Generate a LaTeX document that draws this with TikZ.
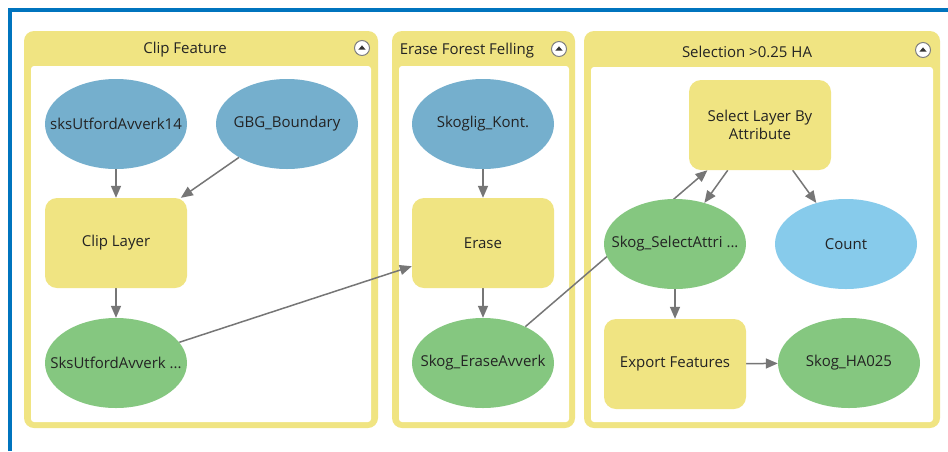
\documentclass[tikz,border=0pt]{standalone}
\usepackage{fontspec}
\setmainfont{Open Sans}
\usetikzlibrary{shapes.geometric,arrows.meta}
\pgfdeclarelayer{groups}
\pgfdeclarelayer{links}
\pgfsetlayers{groups,links,main}
\definecolor{frameblue}{RGB}{0,116,190}
\definecolor{grpyellow}{RGB}{240,228,130}
\definecolor{datablue}{RGB}{117,175,205}
\definecolor{valblue}{RGB}{135,203,235}
\definecolor{outgreen}{RGB}{133,199,128}
\definecolor{linkgray}{RGB}{118,118,118}
\definecolor{txt}{RGB}{35,35,35}
\tikzset{
  every node/.style={text=txt, font=\fontsize{15}{18}\selectfont},
  shapebase/.style={minimum width=142pt, minimum height=90pt, inner sep=0pt},
  dataset/.style={ellipse, fill=datablue, shapebase},
  valnode/.style={ellipse, fill=valblue, shapebase},
  outnode/.style={ellipse, fill=outgreen, shapebase},
  tool/.style={rectangle, rounded corners=12pt, fill=grpyellow, shapebase, align=center},
  link/.style={draw=linkgray, line width=1.5pt, -{Triangle[length=12pt,width=10pt]}},
  grpouter/.style={fill=grpyellow, rounded corners=10pt},
  grpinner/.style={fill=white, rounded corners=3pt},
  collapse/.style={circle, draw=gray, line width=1pt, fill=white, minimum size=15pt, inner sep=0pt},
}
% label set in a zero-width box so the ellipse keeps its fixed size
\newcommand{\lbl}[1]{\makebox[0pt]{#1}}
\newcommand{\collapseicon}[2]{%
  \node[collapse] (#1) at (#2) {};
  \fill[black!80] ([yshift=2.6pt]#1.center) -- ([xshift=-3.6pt,yshift=-1.6pt]#1.center) -- ([xshift=3.6pt,yshift=-1.6pt]#1.center) -- cycle;
}
\begin{document}
\begin{tikzpicture}[x=1pt,y=-1pt]
\useasboundingbox (0,0) rectangle (948,451);

% group containers
\begin{pgfonlayer}{groups}
  \fill[white] (0,0) rectangle (948,451);
  \fill[grpouter] (24,31) rectangle (378,428);
  \fill[grpinner] (31,66) rectangle (371,422);
  \fill[grpouter] (392,31) rectangle (575,428);
  \fill[grpinner] (399,66) rectangle (569,422);
  \fill[grpouter] (584,31) rectangle (940,428);
  \fill[grpinner] (591,67) rectangle (933,422);
\end{pgfonlayer}

% application frame (top and left edges)
\draw[frameblue, line width=4pt] (10,451) -- (10,10) -- (948,10);

% group titles and collapse buttons
\node (t1) at (185,50) {Clip Feature};
\node (t2) at (467,51) {Erase Forest Felling};
\node (t3) at (747,52) {Selection >0.25 HA};
\collapseicon{c1}{362,48}
\collapseicon{c2}{559,49}
\collapseicon{c3}{923,50}

% Clip Feature
\node[dataset] (sks)  at (116,124) {\lbl{sksUtfordAvverk14}};
\node[dataset] (gbg)  at (287,124) {\lbl{GBG\_Boundary}};
\node[tool]    (clip) at (116,243) {Clip Layer};
\node[outnode] (sksout) at (116,363) {\lbl{SksUtfordAvverk ...}};

% Erase Forest Felling
\node[dataset] (kont)  at (483,124) {\lbl{Skoglig\_Kont.}};
\node[tool]    (erase) at (483,243) {Erase};
\node[outnode] (eraseout) at (483,363) {\lbl{Skog\_EraseAvverk}};

% Selection >0.25 HA
\node[tool]    (select) at (760,125) {Select Layer By\\Attribute};
\node[outnode] (selout) at (675,244) {\lbl{Skog\_SelectAttri ...}};
\node[valnode] (count)  at (846,244) {\lbl{Count}};
\node[tool]    (export) at (675,364) {Export Features};
\node[outnode] (ha)     at (849,363) {\lbl{Skog\_HA025}};

% connectors
\begin{pgfonlayer}{links}
  \draw[link] (sks) -- (clip);
  \draw[link] (gbg) -- (clip);
  \draw[link] (clip) -- (sksout);
  \draw[link] (sksout) -- (erase);
  \draw[link] (kont) -- (erase);
  \draw[link] (erase) -- (eraseout);
  \draw[link] (eraseout) -- (select);
  \draw[link] (select) -- (selout);
  \draw[link] (select) -- (count);
  \draw[link] (selout) -- (export);
  \draw[link] (export) -- (ha);
\end{pgfonlayer}
\end{tikzpicture}
\end{document}
